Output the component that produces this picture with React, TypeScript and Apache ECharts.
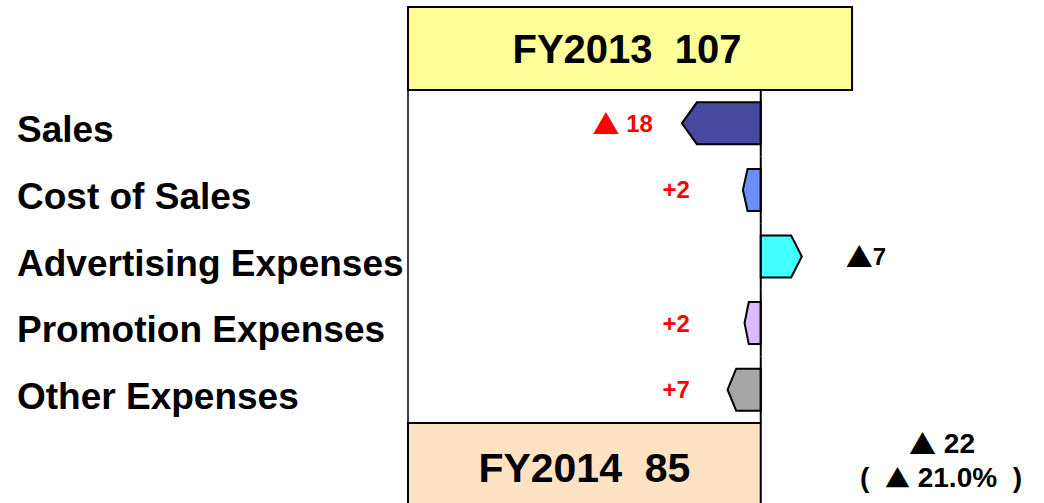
import React, { useEffect, useRef } from "react";
import * as echarts from "echarts";

// ---------- data ----------
const categories = [
  "Sales",
  "Cost of Sales",
  "Advertising Expenses",
  "Promotion Expenses",
  "Other Expenses",
];
// labels printed next to each arrow
const impactLabels = ["▲ 18", "+2", "▲7", "+2", "+7"];
// arrow extent as drawn in the picture (profit effect, same units as the boxes)
const arrowLengths = [-19, -4.3, 9.9, -3.9, -8];

const startLabel = "FY2013";
const startValue = 107;
const endLabel = "FY2014";
const endValue = 85;
const changeLabel = "▲ 22";
const changePctLabel = "(  ▲ 21.0%  )";

// ---------- styles ----------
const arrowColors = ["#4848A0", "#6B8FFF", "#44FFFF", "#DDB9FF", "#A6A6A6"];
const boxColors = ["#FFFF99", "#FDE2C4"];
const FONT = '"Liberation Sans", Arial, Helvetica, sans-serif';
const TRI_FONT = '"Noto Sans CJK JP", "DejaVu Sans", sans-serif';

const richify = (s: string) => s.replace("▲", "{t|▲}");

const richStyles = (tri: number, color: string) => ({
  t: {
    fontFamily: TRI_FONT,
    fontSize: tri,
    fontWeight: "bold",
    fill: color,
    verticalAlign: "middle",
  },
});

export default function App() {
  const ref = useRef<HTMLDivElement>(null);

  useEffect(() => {
    if (!ref.current) return;
    const chart = echarts.init(ref.current, null, { renderer: "svg" });

    const option: any = {
      animation: false,
      backgroundColor: "#ffffff",
      grid: { left: 408, right: 13.5, top: 90, bottom: 80 },
      xAxis: { type: "value", min: 0, max: 150, show: false },
      yAxis: {
        type: "category",
        data: categories,
        inverse: true,
        axisLine: { show: true, lineStyle: { color: "#000", width: 1.5 } },
        axisTick: { show: false },
        splitLine: { show: false },
        axisLabel: {
          align: "left",
          verticalAlign: "top",
          lineHeight: 13,
          margin: 391,
          fontSize: 37,
          fontWeight: "bold",
          fontFamily: FONT,
          color: "#000",
        },
      },
      series: [
        {
          type: "custom",
          clip: false,
          encode: { x: 0, y: 1 },
          data: arrowLengths.map((v, i) => [v, i]),
          renderItem: (params: any, api: any) => {
            const i = params.dataIndex;
            const len = api.value(0);
            const cy = api.coord([endValue, i])[1];
            const x0 = api.coord([endValue, i])[0];
            const x1 = api.coord([endValue + len, i])[0];
            const band = api.size([0, 1])[1];
            const h = band * 0.63;
            const dir = x1 >= x0 ? 1 : -1;
            const head = Math.min(Math.abs(x1 - x0) * 0.26, 15) * dir;
            const top = cy - h / 2;
            const bot = cy + h / 2;
            const tx = dir < 0 ? Math.min(x0 - 71, x1 - 29) : x1 + 44;
            const color = dir < 0 ? "#FF0000" : "#000000";
            return {
              type: "group",
              children: [
                {
                  type: "polygon",
                  shape: {
                    points: [
                      [x0, top],
                      [x1 - head, top],
                      [x1, cy],
                      [x1 - head, bot],
                      [x0, bot],
                    ],
                  },
                  style: { fill: arrowColors[i], stroke: "#000", lineWidth: 2 },
                },
                {
                  type: "line",
                  shape: { x1: x0, y1: cy - band / 2, x2: x0, y2: cy + band / 2 },
                  style: { stroke: "#000", lineWidth: 2 },
                },
                {
                  type: "text",
                  style: {
                    text: richify(impactLabels[i]),
                    rich: richStyles(27, color),
                    x: tx,
                    y: cy,
                    align: dir < 0 ? "right" : "left",
                    verticalAlign: "middle",
                    fill: color,
                    fontSize: 24,
                    fontWeight: "bold",
                    fontFamily: FONT,
                  },
                },
              ],
            };
          },
        },
        {
          type: "custom",
          clip: false,
          encode: { x: 0, y: 1 },
          data: [
            [startValue, 0],
            [endValue, 4],
          ],
          renderItem: (params: any, api: any) => {
            const i = params.dataIndex;
            const cs = params.coordSys;
            const v = api.value(0);
            const xL = api.coord([0, 0])[0];
            const xR = api.coord([v, 0])[0];
            const isStart = i === 0;
            const bh = isStart ? 83 : 90;
            const y0 = isStart ? cs.y - bh : cs.y + cs.height;
            return {
              type: "group",
              children: [
                {
                  type: "rect",
                  shape: { x: xL, y: y0, width: xR - xL, height: bh },
                  style: { fill: boxColors[i], stroke: "#000", lineWidth: 2 },
                },
                {
                  type: "text",
                  style: {
                    text: `${isStart ? startLabel : endLabel}  ${v}`,
                    x: (xL + xR) / 2 - (isStart ? 3 : 0),
                    y: y0 + bh / 2,
                    align: "center",
                    verticalAlign: "middle",
                    fill: "#000",
                    fontSize: isStart ? 40 : 41,
                    fontWeight: "bold",
                    fontFamily: FONT,
                  },
                },
              ],
            };
          },
        },
      ],
      graphic: [
        {
          type: "text",
          x: 942,
          y: 443,
          style: {
            text: richify(changeLabel),
            rich: richStyles(27, "#000"),
            align: "center",
            verticalAlign: "middle",
            fill: "#000",
            fontSize: 28,
            fontWeight: "bold",
            fontFamily: FONT,
          },
        },
        {
          type: "text",
          x: 941,
          y: 477,
          style: {
            text: richify(changePctLabel),
            rich: richStyles(25, "#000"),
            align: "center",
            verticalAlign: "middle",
            fill: "#000",
            fontSize: 28,
            fontWeight: "bold",
            fontFamily: FONT,
          },
        },
      ],
    };

    chart.setOption(option);
    return () => chart.dispose();
  }, []);

  return (
    <div
      ref={ref}
      style={{ position: "absolute", left: 0, top: 0, width: 1044, height: 503 }}
    />
  );
}
